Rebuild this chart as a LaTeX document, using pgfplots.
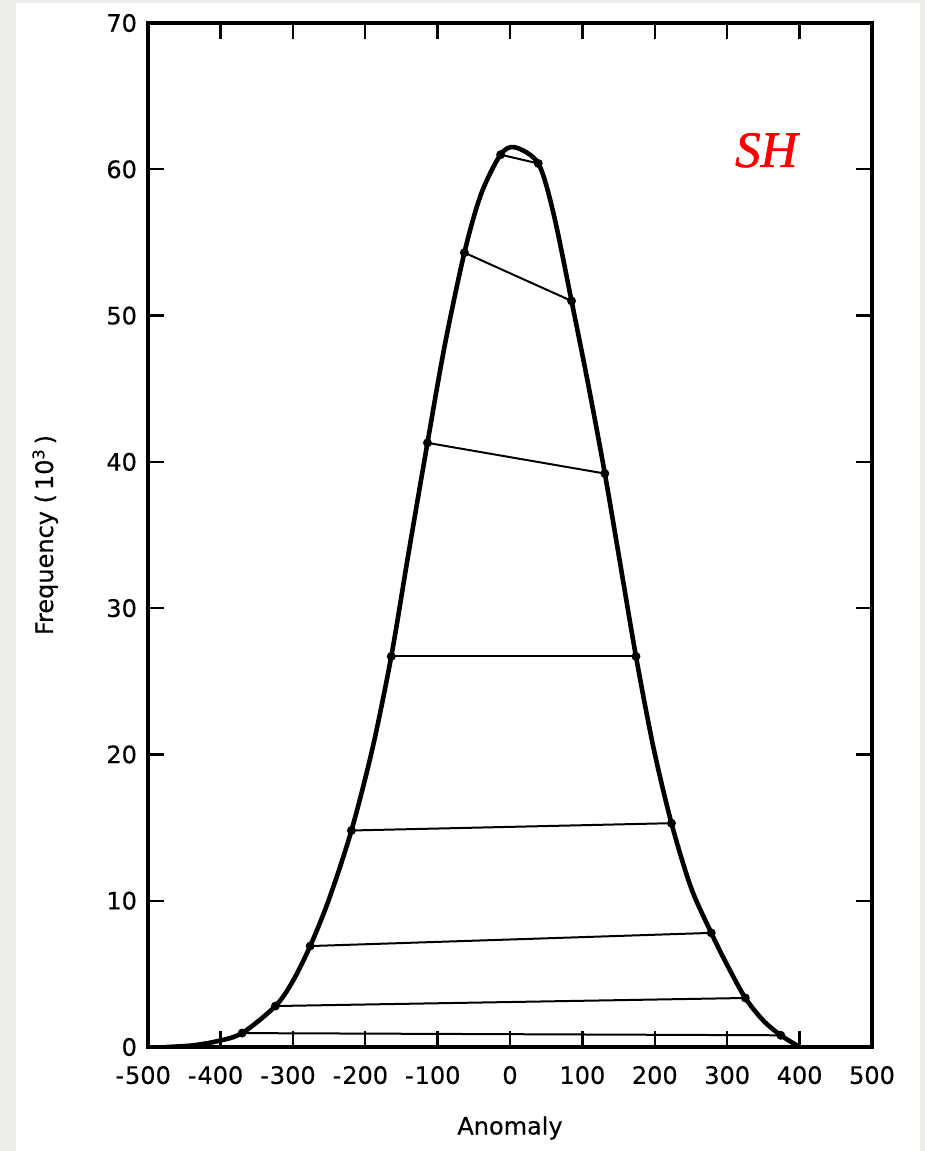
\documentclass[border=0pt]{standalone}
\usepackage{fontspec}
\setmainfont{DejaVu Sans}[FakeBold=0.4]
\newfontfamily\shfont{Liberation Serif}[ItalicFeatures={FakeBold=1.2}]
\usepackage{pgfplots}
\pgfplotsset{compat=1.18}
\definecolor{bggray}{RGB}{236,236,233}
\begin{document}
\begin{tikzpicture}
\useasboundingbox (0,0) rectangle (462.5pt,575.5pt);
\fill[bggray] (0,0) rectangle (462.5pt,575.5pt);
\fill[white] (8pt,0) rectangle (460pt,574pt);
\begin{axis}[
  at={(74pt,52pt)}, anchor=south west,
  width=362pt, height=512pt, scale only axis,
  xmin=-500, xmax=500, ymin=0, ymax=70,
  axis line style={line width=1.9pt},
  tick align=inside, major tick length=8pt,
  tick style={line width=1.2pt, black},
  xtick={-500,-400,...,500},
  xticklabels={\llap{-\kern0.5pt}500,\llap{-\kern0.5pt}400,\llap{-\kern0.5pt}300,\llap{-\kern0.5pt}200,\llap{-\kern0.5pt}100,0,100,200,300,400,500},
  ytick={0,10,...,70},
  font=\fontsize{12}{14}\selectfont,
  /pgf/number format/assume math mode=true,
  yticklabel style={xshift=-2pt},
  xticklabel style={yshift=-6pt},
  xlabel={Anomaly},
  ylabel={Frequency (\,10\textsuperscript{3}\,)},
  xlabel style={at={(axis description cs:0.5,-0.079)}, anchor=center},
  ylabel style={at={(axis description cs:-0.142,0.5)}, anchor=center},
]
% horizontal chords between curve points
\addplot[line width=1pt, mark=*, mark size=1.7pt] coordinates {(-13,61.0) (39,60.4)};
\addplot[line width=1pt, mark=*, mark size=1.7pt] coordinates {(-63,54.3) (85,51.0)};
\addplot[line width=1pt, mark=*, mark size=1.7pt] coordinates {(-114,41.3) (131,39.2)};
\addplot[line width=1pt, mark=*, mark size=1.7pt] coordinates {(-164,26.7) (174,26.7)};
\addplot[line width=1pt, mark=*, mark size=1.7pt] coordinates {(-219,14.8) (223,15.3)};
\addplot[line width=1pt, mark=*, mark size=1.7pt] coordinates {(-276,6.9) (278,7.8)};
\addplot[line width=1pt, mark=*, mark size=1.7pt] coordinates {(-324,2.8) (325,3.35)};
\addplot[line width=1pt, mark=*, mark size=1.7pt] coordinates {(-370,0.95) (374,0.8)};
% frequency curve
\addplot[line width=2.3pt, smooth, tension=0.5] coordinates {
(-475,0) (-440,0.1) (-404,0.4) (-370,0.95) (-324,2.8) (-300,4.5) (-276,6.9)
(-250,10.1) (-219,14.8) (-190,20.4) (-164,26.7) (-140,33.8) (-114,41.3)
(-90,48.0) (-63,54.3) (-40,58.3) (-13,61.0) (7,61.5) (39,60.4) (60,57.0)
(85,51.0) (108,45.3) (131,39.2) (152,33.1) (174,26.7) (198,20.5) (223,15.3)
(250,10.9) (278,7.8) (300,5.6) (325,3.35) (350,1.8) (374,0.8) (400,0)
};
\node[text=red, font=\shfont\itshape\fontsize{25.5}{30}\selectfont] at (axis cs:354,61.3) {SH};
\end{axis}
\end{tikzpicture}
\end{document}
